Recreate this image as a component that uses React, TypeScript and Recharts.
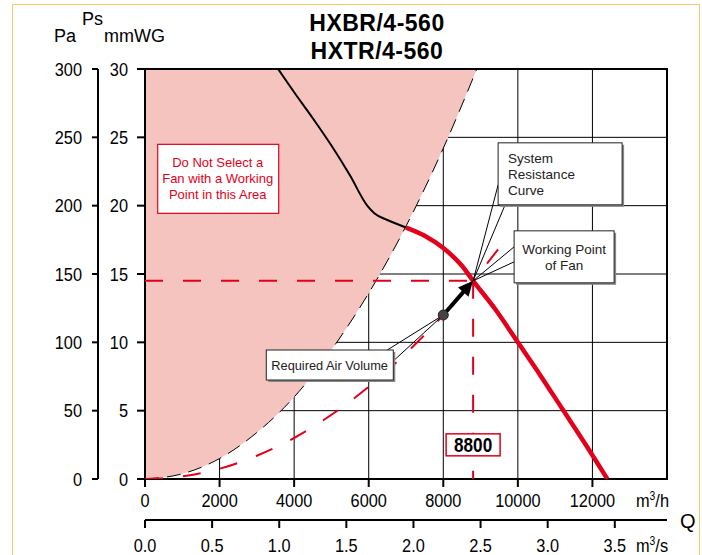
import React from 'react';
import {
    ComposedChart,
    Line,
    Area,
    XAxis,
    YAxis,
    CartesianGrid,
    ReferenceLine,
    ReferenceDot,
    ReferenceArea,
} from 'recharts';

// axis ticks
const flowTicks = [0, 2000, 4000, 6000, 8000, 10000, 12000];
const flowSecTicks = [0, 0.5, 1.0, 1.5, 2.0, 2.5, 3.0, 3.5];
const mmTicks = [0, 5, 10, 15, 20, 25, 30];
const paTicks = [0, 50, 100, 150, 200, 250, 300];

// fan curve, unstable part (thin black)
const stallQ = [3570, 4000, 4500, 5000, 5500, 5960, 6150, 6500, 7000];
const stallP = [30, 28.3, 26.4, 24.4, 22.2, 20.0, 19.45, 18.95, 18.4];

// fan curve, selectable part (thick red)
const fanQ = [7000, 7500, 8000, 8500, 8800, 9400, 10000, 10600, 11200, 11800, 12400];
const fanP = [18.4, 17.8, 16.9, 15.6, 14.5, 12.4, 10, 7.6, 5.1, 2.6, 0];

// system resistance curve (red dashed)
const sysQ = [0, 1000, 2000, 3000, 4000, 5000, 6000, 7000, 8000, 8800, 9750];
const sysP = [0, 0.19, 0.75, 1.7, 3.0, 4.7, 6.75, 9.2, 12.0, 14.5, 17.8];

// limit of the "do not select" area (black dashed)
const limitQ = [0, 1000, 2000, 3000, 4000, 5000, 6000, 7000, 8000, 8900];
const limitP = [0, 0.38, 1.5, 3.4, 6.0, 9.45, 13.6, 18.5, 24.2, 30];

const working = { q: 8800, p: 14.5 };
const required = { q: 8000, p: 12.0 };

const stallData = stallQ.map((q, i) => ({ q, p: stallP[i] }));
const fanData = fanQ.map((q, i) => ({ q, p: fanP[i] }));
const sysData = sysQ.map((q, i) => ({ q, p: sysP[i] }));
const limitData = limitQ.map((q, i) => ({ q, p: limitP[i], band: [limitP[i], 30] }));
// same fan curve in m3/s and Pa, only to bind the secondary axes
const fanDataSec = fanQ.map((q, i) => ({ qs: q / 3600, pa: fanP[i] * 10 }));

const RED = '#e3001b';
const PINK = '#f6c4bf';
const TEXT_FONT = '"Liberation Sans", Arial, sans-serif';

// condensed tick labels, like the narrow face of the original
const NarrowTick = ({ x, y, payload, textAnchor, format, dy }: any) => {
    const label = format ? format(payload.value) : payload.value;
    return (
        <g transform={`translate(${x},${y}) scale(0.86,1)`}>
            <text
                x={0}
                y={0}
                dy={dy}
                textAnchor={textAnchor}
                fill="#000"
                fontSize={19}
                fontFamily={TEXT_FONT}
            >
                {label}
            </text>
        </g>
    );
};

const SystemCallout = ({ cx, cy }: any) => (
    <g>
        <line x1={cx + 25} y1={cy - 96} x2={cx} y2={cy} stroke="#000" strokeWidth={1} />
        <line x1={cx + 32} y1={cy - 76} x2={cx} y2={cy} stroke="#000" strokeWidth={1} />
        <line x1={cx + 41} y1={cy - 34} x2={cx} y2={cy} stroke="#000" strokeWidth={1} />
        <line x1={cx + 41} y1={cy - 19} x2={cx} y2={cy} stroke="#000" strokeWidth={1} />
        <rect x={cx + 27} y={cy - 136} width={124} height={62} fill="#888" />
        <rect x={cx + 25} y={cy - 138} width={124} height={62} fill="#fff" stroke="#222" strokeWidth={1} />
        <text fontFamily={TEXT_FONT} fontSize={13.5} fill="#222">
            <tspan x={cx + 35} y={cy - 118}>System</tspan>
            <tspan x={cx + 35} y={cy - 102}>Resistance</tspan>
            <tspan x={cx + 35} y={cy - 86}>Curve</tspan>
        </text>
        <rect x={cx + 43} y={cy - 48} width={100} height={52} fill="#888" />
        <rect x={cx + 41} y={cy - 50} width={100} height={52} fill="#fff" stroke="#222" strokeWidth={1} />
        <text fontFamily={TEXT_FONT} fontSize={13.5} fill="#222" textAnchor="middle">
            <tspan x={cx + 91} y={cy - 27}>Working Point</tspan>
            <tspan x={cx + 91} y={cy - 11}>of Fan</tspan>
        </text>
    </g>
);

const RequiredCallout = ({ cx, cy }: any) => (
    <g>
        <line x1={cx - 56} y1={cy + 35} x2={cx} y2={cy} stroke="#000" strokeWidth={1} />
        <line x1={cx - 50} y1={cy + 46} x2={cx} y2={cy} stroke="#000" strokeWidth={1} />
        <rect x={cx - 175} y={cy + 37} width={127} height={30} fill="#888" />
        <rect x={cx - 177} y={cy + 35} width={127} height={30} fill="#fff" stroke="#222" strokeWidth={1} />
        <text x={cx - 172} y={cy + 55} fontFamily={TEXT_FONT} fontSize={12.8} fill="#222">
            Required Air Volume
        </text>
        <circle cx={cx} cy={cy} r={5} fill="#444" stroke="#222" strokeWidth={1} />
    </g>
);

const WarningBox = ({ cx, cy }: any) => (
    <g>
        <rect x={cx - 60} y={cy - 34} width={121} height={69} fill="#fff" stroke={RED} strokeWidth={1.2} />
        <text fontFamily={TEXT_FONT} fontSize={13} fill={RED} textAnchor="middle">
            <tspan x={cx} y={cy - 11}>Do Not Select a</tspan>
            <tspan x={cx} y={cy + 5}>Fan with a Working</tspan>
            <tspan x={cx} y={cy + 21}>Point in this Area</tspan>
        </text>
    </g>
);

const FlowBox = ({ cx, cy }: any) => (
    <g>
        <rect x={cx - 27} y={cy - 11} width={54} height={22} fill="#fff" stroke={RED} strokeWidth={1.5} />
        <g transform={`translate(${cx},${cy + 7}) scale(0.86,1)`}>
            <text x={0} y={0} textAnchor="middle" fontFamily={TEXT_FONT} fontWeight="bold" fontSize={20} fill="#000">
                {working.q}
            </text>
        </g>
    </g>
);

const Arrow = ({ x1, y1, x2, y2 }: any) => {
    const dx = x2 - x1;
    const dy = y2 - y1;
    const len = Math.sqrt(dx * dx + dy * dy);
    const ux = dx / len;
    const uy = dy / len;
    const head = 15;
    const bx = x2 - ux * head;
    const by = y2 - uy * head;
    return (
        <g>
            <line x1={x1} y1={y1} x2={bx + ux * 2} y2={by + uy * 2} stroke="#000" strokeWidth={4} />
            <polygon
                points={`${x2},${y2} ${bx - uy * 7},${by + ux * 7} ${bx + uy * 7},${by - ux * 7}`}
                fill="#000"
            />
        </g>
    );
};

export default function App() {
    return (
        <div style={{ position: 'relative', width: 702, height: 555, overflow: 'hidden', background: '#fff' }}>
            <style>{'body{margin:0}'}</style>
            <div
                style={{
                    position: 'absolute',
                    left: 12,
                    top: 4,
                    width: 688,
                    height: 600,
                    border: '1.5px solid #f5c66a',
                    boxSizing: 'border-box',
                }}
            />
            <ComposedChart width={702} height={555} margin={{ top: 69, right: 35, bottom: 0, left: 50 }}>
                <XAxis
                    xAxisId="h"
                    type="number"
                    dataKey="q"
                    domain={[0, 14000]}
                    allowDataOverflow
                    ticks={flowTicks}
                    interval={0}
                    height={41}
                    axisLine={false}
                    tickSize={8}
                    tickMargin={6}
                    tickLine={{ stroke: '#000', strokeWidth: 2 }}
                    tick={<NarrowTick dy="0.71em" />}
                />
                <XAxis
                    xAxisId="s"
                    type="number"
                    dataKey="qs"
                    domain={[0, 14000 / 3600]}
                    allowDataOverflow
                    ticks={flowSecTicks}
                    interval={0}
                    height={35}
                    axisLine={{ stroke: '#000', strokeWidth: 2 }}
                    tickSize={8}
                    tickMargin={10}
                    tickLine={{ stroke: '#000', strokeWidth: 2 }}
                    tick={<NarrowTick dy="0.71em" format={(v: number) => v.toFixed(1)} />}
                />
                <YAxis
                    yAxisId="mm"
                    type="number"
                    domain={[0, 30]}
                    allowDataOverflow
                    ticks={mmTicks}
                    interval={0}
                    width={47}
                    axisLine={false}
                    tickSize={8}
                    tickMargin={9}
                    tickLine={{ stroke: '#000', strokeWidth: 2 }}
                    tick={<NarrowTick dy="0.355em" />}
                />
                <YAxis
                    yAxisId="pa"
                    type="number"
                    domain={[0, 300]}
                    allowDataOverflow
                    ticks={paTicks}
                    interval={0}
                    width={48}
                    axisLine={{ stroke: '#000', strokeWidth: 2 }}
                    tickSize={6}
                    tickMargin={10}
                    tickLine={{ stroke: '#000', strokeWidth: 2 }}
                    tick={<NarrowTick dy="0.355em" />}
                />
                <Line
                    xAxisId="s"
                    yAxisId="pa"
                    data={fanDataSec}
                    dataKey="pa"
                    stroke="none"
                    dot={false}
                    activeDot={false}
                    isAnimationActive={false}
                />
                <Area
                    xAxisId="h"
                    yAxisId="mm"
                    data={limitData}
                    dataKey="band"
                    type="monotone"
                    stroke="none"
                    fill={PINK}
                    fillOpacity={1}
                    isAnimationActive={false}
                />
                <CartesianGrid xAxisId="h" yAxisId="mm" stroke="#000" strokeWidth={1} />
                <Line
                    xAxisId="h"
                    yAxisId="mm"
                    data={limitData}
                    dataKey="p"
                    type="monotone"
                    stroke="#000"
                    strokeWidth={1}
                    strokeDasharray="14 8"
                    dot={false}
                    isAnimationActive={false}
                />
                <Line
                    xAxisId="h"
                    yAxisId="mm"
                    data={sysData}
                    dataKey="p"
                    type="monotone"
                    stroke={RED}
                    strokeWidth={2}
                    strokeDasharray="18 20"
                    dot={false}
                    isAnimationActive={false}
                />
                <ReferenceLine
                    xAxisId="h"
                    yAxisId="mm"
                    segment={[{ x: 0, y: working.p }, { x: working.q, y: working.p }]}
                    stroke={RED}
                    strokeWidth={2}
                    strokeDasharray="18 20"
                />
                <ReferenceLine
                    xAxisId="h"
                    yAxisId="mm"
                    segment={[{ x: working.q, y: working.p }, { x: working.q, y: 0 }]}
                    stroke={RED}
                    strokeWidth={2}
                    strokeDasharray="18 20"
                />
                <Line
                    xAxisId="h"
                    yAxisId="mm"
                    data={stallData}
                    dataKey="p"
                    type="monotone"
                    stroke="#000"
                    strokeWidth={2}
                    dot={false}
                    isAnimationActive={false}
                />
                <Line
                    xAxisId="h"
                    yAxisId="mm"
                    data={fanData}
                    dataKey="p"
                    type="monotone"
                    stroke={RED}
                    strokeWidth={4.5}
                    dot={false}
                    isAnimationActive={false}
                />
                <ReferenceArea
                    xAxisId="h"
                    yAxisId="mm"
                    x1={0}
                    x2={14000}
                    y1={0}
                    y2={30}
                    fill="none"
                    fillOpacity={0}
                    stroke="#000"
                    strokeWidth={2}
                />
                <ReferenceLine
                    xAxisId="h"
                    yAxisId="mm"
                    segment={[{ x: required.q, y: required.p }, { x: working.q, y: working.p }]}
                    shape={Arrow}
                />
                <ReferenceDot xAxisId="h" yAxisId="mm" x={working.q} y={working.p} r={1} shape={SystemCallout} />
                <ReferenceDot xAxisId="h" yAxisId="mm" x={required.q} y={required.p} r={5} shape={RequiredCallout} />
                <ReferenceDot xAxisId="h" yAxisId="mm" x={1950} y={22} r={1} shape={WarningBox} />
                <ReferenceDot xAxisId="h" yAxisId="mm" x={working.q} y={2.5} r={1} shape={FlowBox} />
            </ComposedChart>
            <svg
                width={702}
                height={555}
                style={{ position: 'absolute', left: 0, top: 0, pointerEvents: 'none' }}
            >
                <g fontFamily={TEXT_FONT} fontWeight="bold" fontSize={23} fill="#000" textAnchor="middle">
                    <text x={377} y={31} letterSpacing={0.5}>HXBR/4-560</text>
                    <text x={377} y={59} letterSpacing={0.5}>HXTR/4-560</text>
                </g>
                <g fontFamily={TEXT_FONT} fontSize={18} fill="#000">
                    <text x={54} y={42}>Pa</text>
                    <text x={82} y={25}>Ps</text>
                    <text x={104} y={42}>mmWG</text>
                    <text x={680} y={528} fontSize={20}>Q</text>
                </g>
                <g fontFamily={TEXT_FONT} fontSize={19} fill="#000">
                    <g transform="translate(636,507) scale(0.86,1)">
                        <text x={0} y={0}>
                            m<tspan dy={-7} fontSize={12}>3</tspan>
                            <tspan dy={7}>/h</tspan>
                        </text>
                    </g>
                    <g transform="translate(636,552) scale(0.86,1)">
                        <text x={0} y={0}>
                            m<tspan dy={-7} fontSize={12}>3</tspan>
                            <tspan dy={7}>/s</tspan>
                        </text>
                    </g>
                </g>
            </svg>
        </div>
    );
}
